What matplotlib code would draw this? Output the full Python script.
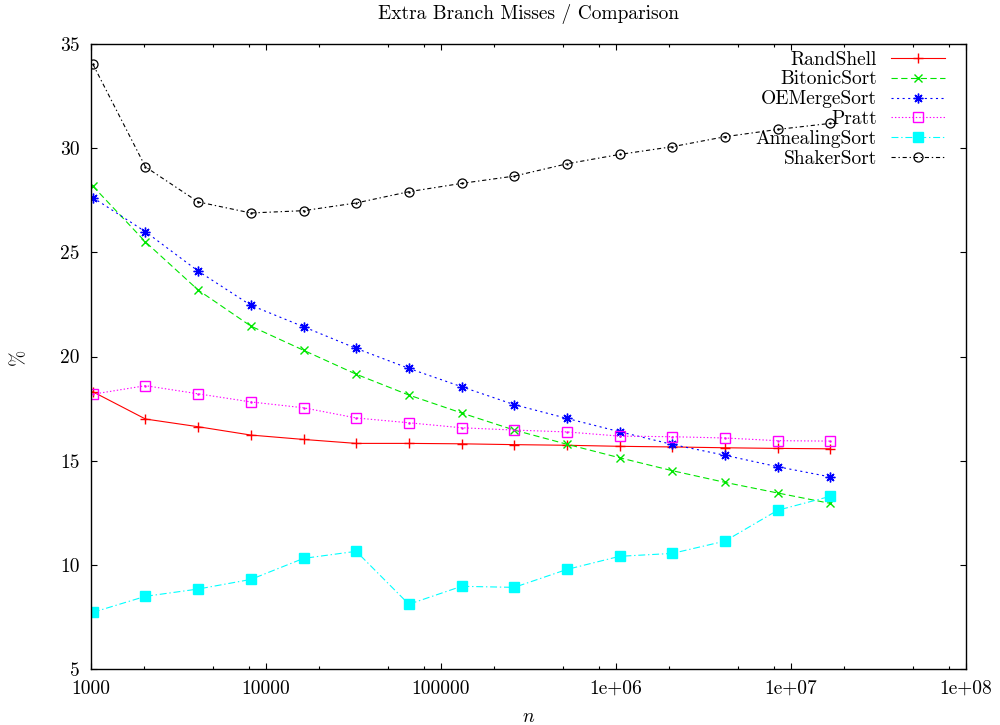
import matplotlib
matplotlib.use("Agg")
import matplotlib.pyplot as plt
from matplotlib.ticker import FixedLocator, NullFormatter

plt.rcParams['font.family'] = ['cmr10', 'DejaVu Serif']
plt.rcParams['mathtext.fontset'] = 'cm'
plt.rcParams['axes.unicode_minus'] = False
plt.rcParams['lines.scale_dashes'] = False

# input sizes
n = [1024, 2048, 4096, 8192, 16384, 32768, 65536, 131072, 262144,
     524288, 1048576, 2097152, 4194304, 8388608, 16777216]

randshell = [18.31, 17.00, 16.63, 16.23, 16.02, 15.83, 15.83, 15.81, 15.77,
             15.74, 15.69, 15.66, 15.62, 15.59, 15.57]
bitonic = [28.18, 25.50, 23.19, 21.46, 20.30, 19.15, 18.15, 17.29, 16.47,
           15.79, 15.14, 14.52, 13.96, 13.45, 12.95]
oemerge = [27.63, 25.99, 24.10, 22.46, 21.43, 20.39, 19.43, 18.55, 17.69,
           17.03, 16.39, 15.78, 15.26, 14.71, 14.22]
pratt = [18.19, 18.60, 18.21, 17.82, 17.54, 17.05, 16.82, 16.58, 16.47,
         16.38, 16.18, 16.15, 16.09, 15.96, 15.94]
annealing = [7.72, 8.49, 8.84, 9.30, 10.31, 10.65, 8.11, 8.97, 8.92,
             9.78, 10.41, 10.55, 11.14, 12.62, 13.29]
shaker = [34.04, 29.10, 27.42, 26.89, 27.00, 27.37, 27.91, 28.31, 28.66,
          29.25, 29.70, 30.07, 30.55, 30.90, 31.19]

x_ticks = [1e3, 1e4, 1e5, 1e6, 1e7, 1e8]
x_tick_labels = ['1000', '10000', '100000', '1e+06', '1e+07', '1e+08']
y_ticks = [5, 10, 15, 20, 25, 30, 35]

fs = 14
lw = 0.8

fig = plt.figure(figsize=(10, 7.25), dpi=100)
ax = fig.add_axes([0.091, 0.0772, 0.875, 0.8621])

ax.plot(n, randshell, color='#ff0000', lw=lw, ls='-', marker='+', ms=7,
        mew=1.0, label='RandShell')
ax.plot(n, bitonic, color='#00e600', lw=lw, ls=(0, (4.5, 2.5)), marker='x',
        ms=6, mew=1.0, label='BitonicSort')
ax.plot(n, oemerge, color='#0000ff', lw=lw, ls=(0, (1.5, 2.5)),
        marker=(8, 2, 0), ms=7, mew=1.0, label='OEMergeSort')
ax.plot(n, pratt, color='#ff00ff', lw=lw, ls=(0, (1, 1.5)), marker='s',
        ms=6.5, mfc='none', mew=1.0, label='Pratt')
ax.plot(n, annealing, color='#00ffff', lw=lw, ls=(0, (5, 2, 1, 2)),
        marker='s', ms=6.5, mew=1.0, label='AnnealingSort')
ax.plot(n, shaker, color='black', lw=lw, ls=(0, (3, 2, 1, 2)), marker='o',
        ms=6.5, mfc='none', mew=0.9, label='ShakerSort')
# centre dots of the open markers
ax.plot(n, pratt, ls='none', marker='.', ms=1.5, color='#ff00ff')
ax.plot(n, shaker, ls='none', marker='.', ms=1.5, color='black')

ax.set_xscale('log')
ax.set_xlim(1e3, 1e8)
ax.set_ylim(5, 35)

ax.xaxis.set_major_locator(FixedLocator(x_ticks))
ax.set_xticklabels(x_tick_labels)
minor = [m * 10 ** e for e in range(3, 8) for m in (2, 5, 8)]
ax.xaxis.set_minor_locator(FixedLocator(minor))
ax.xaxis.set_minor_formatter(NullFormatter())
ax.set_yticks(y_ticks)
ax.set_yticklabels([str(v) for v in y_ticks])

ax.tick_params(which='both', direction='in', top=True, right=True,
               labelsize=fs, width=0.8)
ax.tick_params(which='major', length=4.5, pad=8)
ax.tick_params(which='minor', length=2.5)
for s in ax.spines.values():
    s.set_linewidth(1.0)

ax.set_xlabel('$n$', fontsize=fs, labelpad=7)
ax.set_ylabel('%', fontsize=fs, labelpad=23)
ax.set_title('Extra Branch Misses / Comparison', fontsize=fs, pad=18)

leg = ax.legend(loc='upper right', bbox_to_anchor=(0.976, 0.9893),
                frameon=False, markerfirst=False, fontsize=fs,
                handlelength=2.8, handletextpad=0.7, labelspacing=0.1,
                borderaxespad=0, borderpad=0)

fig.savefig('out.png', dpi=100)
